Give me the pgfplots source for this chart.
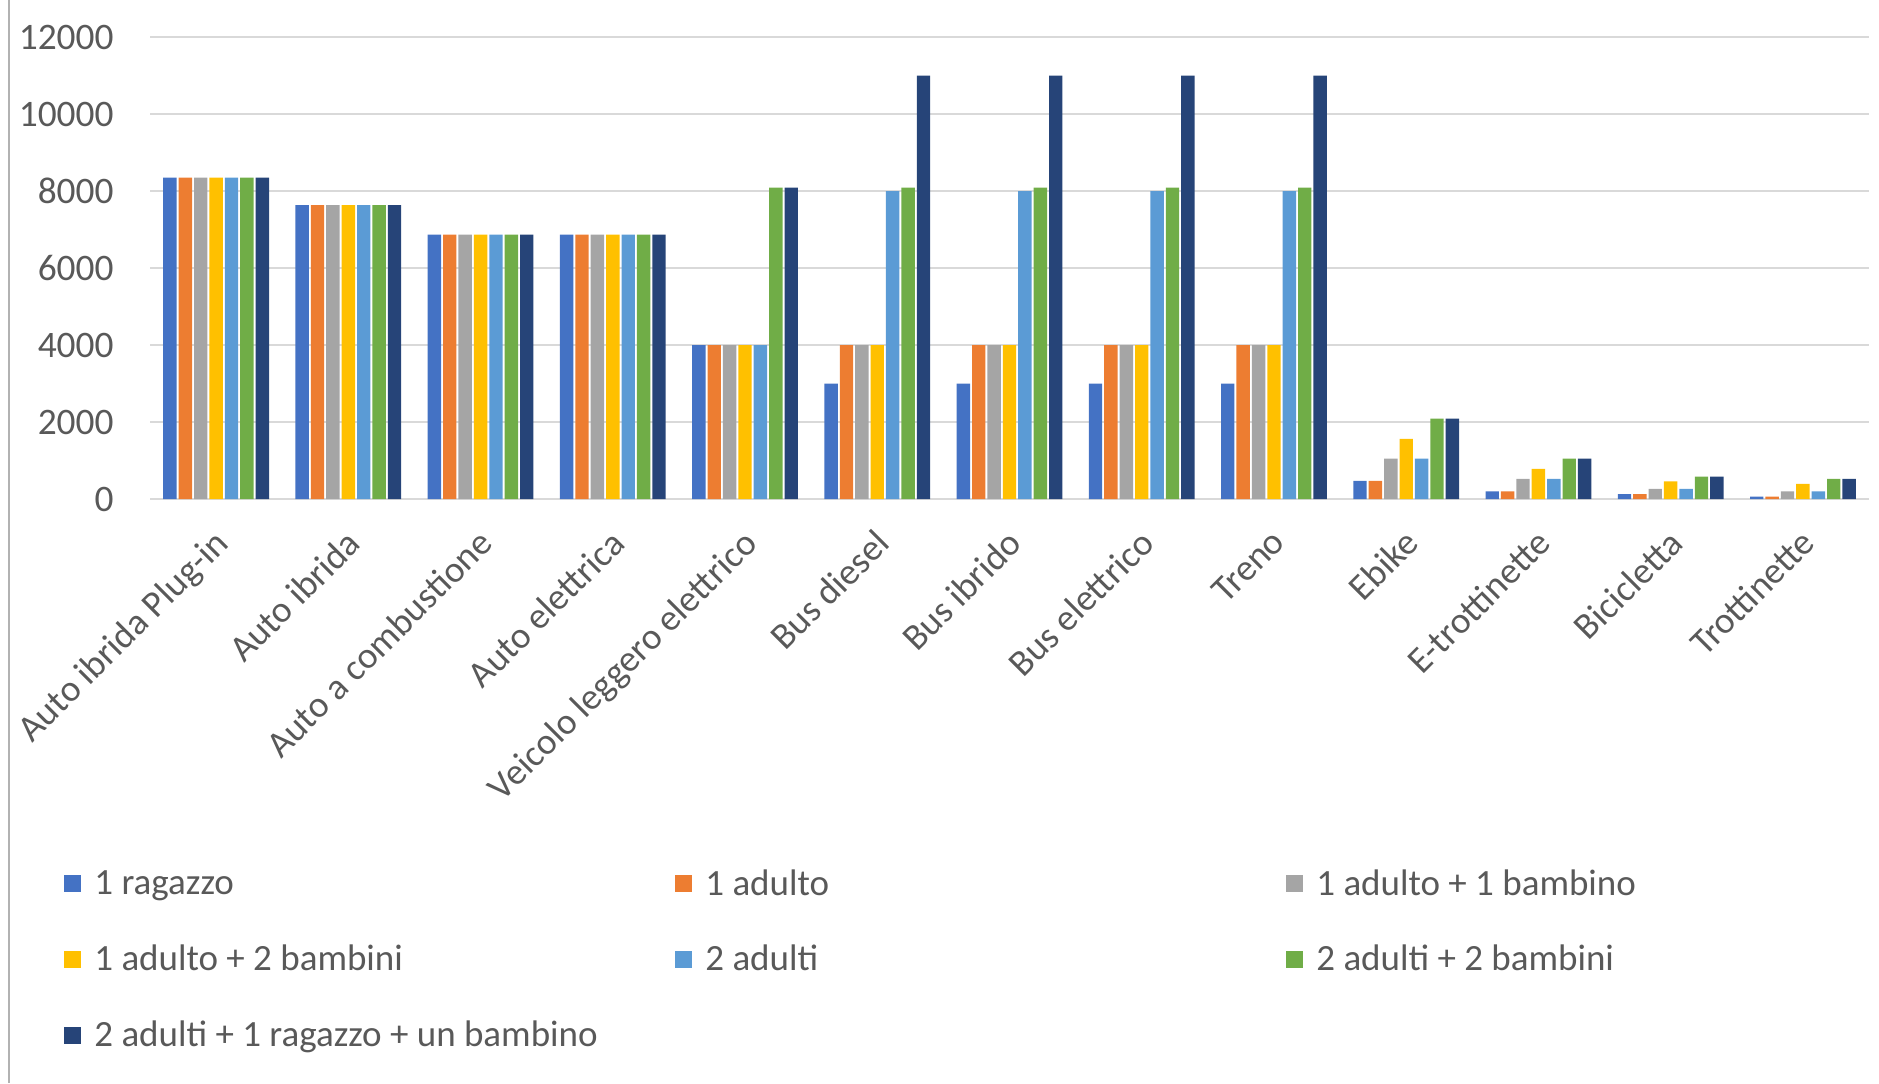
\documentclass[border=0pt]{standalone}
\usepackage{pgfplots}
\pgfplotsset{compat=1.18}
\usepackage{fontspec}
\setmainfont{Carlito}
\definecolor{c1}{HTML}{4472C4}
\definecolor{c2}{HTML}{ED7D31}
\definecolor{c3}{HTML}{A5A5A5}
\definecolor{c4}{HTML}{FFC000}
\definecolor{c5}{HTML}{5B9BD5}
\definecolor{c6}{HTML}{70AD47}
\definecolor{c7}{HTML}{264478}
\definecolor{txt}{HTML}{595959}
\definecolor{gridc}{HTML}{D9D9D9}
\begin{document}
\begin{tikzpicture}[font=\fontsize{18.5pt}{22pt}\selectfont]
\useasboundingbox (0,0) rectangle (939.5pt,541.5pt);
\draw[gray!60, line width=0.7pt] (4.5pt,0) -- (4.5pt,541.5pt);
\begin{axis}[
  at={(75pt,292pt)}, anchor=south west,
  scale only axis, width=859.5pt, height=231pt,
  xmin=-0.5, xmax=12.5, ymin=0, ymax=12000,
  enlargelimits=false,
  ybar=1pt, bar width=6.7pt,
  axis line style={draw=none},
  major tick length=0pt,
  xmajorgrids=false, ymajorgrids=true,
  major grid style={draw=gridc, line width=0.8pt},
  ytick={0,2000,...,12000},
  scaled y ticks=false,
  /pgf/number format/1000 sep={},
  /pgf/number format/assume math mode=true,
  yticklabel style={anchor=east, inner sep=0pt, xshift=-18pt, text=txt, font=\fontsize{18.7pt}{22pt}\selectfont},
  xtick={0,...,12},
  xticklabels={Auto ibrida Plug-in, Auto ibrida, Auto a combustione, Auto elettrica, Veicolo leggero elettrico, Bus diesel, Bus ibrido, Bus elettrico, Treno, Ebike, E-trottinette, Bicicletta, Trottinette},
  xticklabel style={xshift=-2pt, yshift=-14pt, rotate=45, anchor=north east, inner sep=0pt, text=txt, font=\fontsize{18.5pt}{22pt}\selectfont},
  legend columns=3,
  legend cell align=left,
  legend image code/.code={\fill[#1] (0pt,-4.25pt) rectangle (8.5pt,4.25pt);},
  legend style={at={(0,0)}, anchor=north west, xshift=-43pt, yshift=-185pt,
    draw=none, fill=none, inner sep=0pt, row sep=23.5pt,
    nodes={inner sep=0pt, text=txt, font=\fontsize{18.5pt}{22pt}\selectfont},
    /tikz/every odd column/.append style={column sep=6.5pt},
    /tikz/every even column/.append style={column sep=0pt}},
]
\addplot[fill=c1, draw=none] coordinates {(0,8350) (1,7630) (2,6870) (3,6870) (4,4000) (5,3000) (6,3000) (7,3000) (8,3000) (9,470) (10,200) (11,130) (12,60)};
\addplot[fill=c2, draw=none] coordinates {(0,8350) (1,7630) (2,6870) (3,6870) (4,4000) (5,4000) (6,4000) (7,4000) (8,4000) (9,470) (10,200) (11,130) (12,60)};
\addplot[fill=c3, draw=none] coordinates {(0,8350) (1,7630) (2,6870) (3,6870) (4,4000) (5,4000) (6,4000) (7,4000) (8,4000) (9,1050) (10,520) (11,260) (12,200)};
\addplot[fill=c4, draw=none] coordinates {(0,8350) (1,7630) (2,6870) (3,6870) (4,4000) (5,4000) (6,4000) (7,4000) (8,4000) (9,1560) (10,780) (11,460) (12,390)};
\addplot[fill=c5, draw=none] coordinates {(0,8350) (1,7630) (2,6870) (3,6870) (4,4000) (5,8000) (6,8000) (7,8000) (8,8000) (9,1050) (10,520) (11,260) (12,200)};
\addplot[fill=c6, draw=none] coordinates {(0,8350) (1,7630) (2,6870) (3,6870) (4,8090) (5,8090) (6,8090) (7,8090) (8,8090) (9,2090) (10,1050) (11,580) (12,520)};
\addplot[fill=c7, draw=none] coordinates {(0,8350) (1,7630) (2,6870) (3,6870) (4,8090) (5,11000) (6,11000) (7,11000) (8,11000) (9,2090) (10,1050) (11,580) (12,520)};
\legend{\makebox[290.5pt][l]{1 ragazzo}, \makebox[290.5pt][l]{1 adulto}, \makebox[290.5pt][l]{1 adulto + 1 bambino}, \makebox[290.5pt][l]{1 adulto + 2 bambini}, \makebox[290.5pt][l]{2 adulti}, \makebox[290.5pt][l]{2 adulti + 2 bambini}, \makebox[290.5pt][l]{2 adulti + 1 ragazzo + un bambino}}
\end{axis}
\end{tikzpicture}
\end{document}
